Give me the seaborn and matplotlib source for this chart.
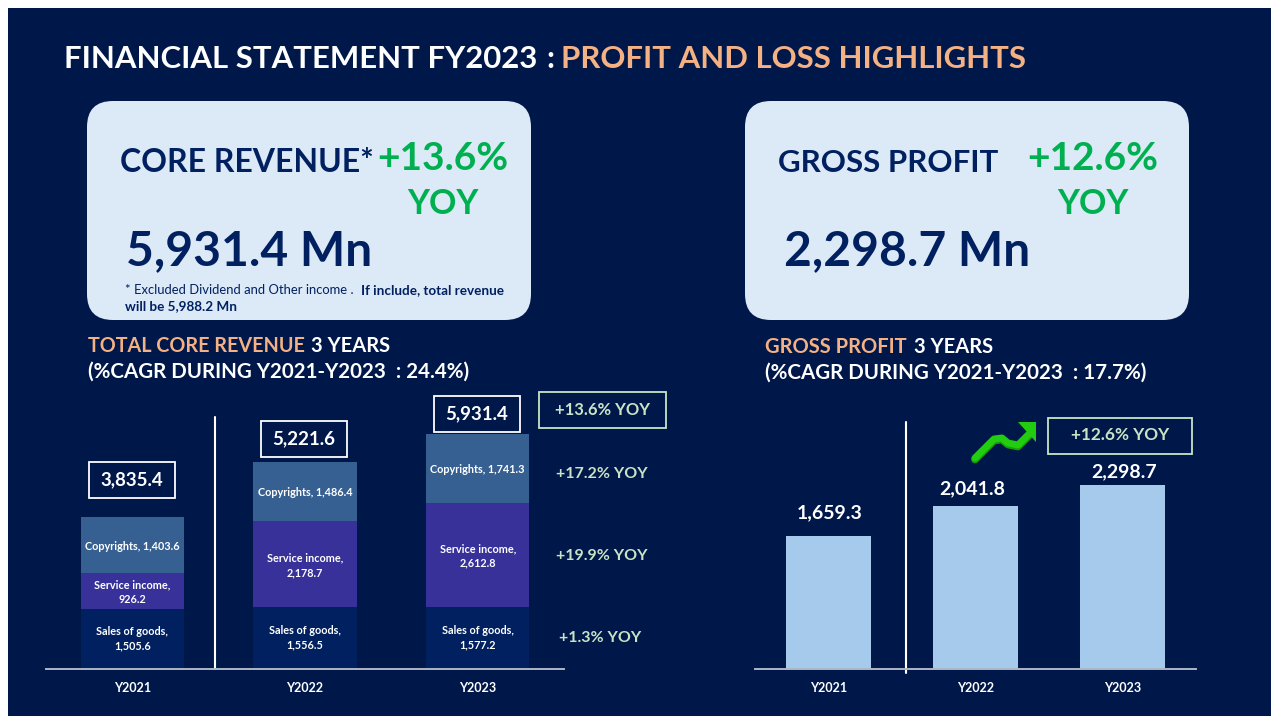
"""Profit and loss highlights slide, FY2023."""

import matplotlib
matplotlib.use("Agg")
import matplotlib.pyplot as plt
from matplotlib.patches import FancyBboxPatch, Polygon, Rectangle
import seaborn as sns

WIDTH, HEIGHT = 1271, 716

YEARS = ["Y2021", "Y2022", "Y2023"]
SALES = [1505.6, 1556.5, 1577.2]
SERVICE = [926.2, 2178.7, 2612.8]
COPYRIGHTS = [1403.6, 1486.4, 1741.3]
TOTALS = [3835.4, 5221.6, 5931.4]
GROSS_PROFIT = [1659.3, 2041.8, 2298.7]
SEGMENT_YOY = ["+17.2% YOY", "+19.9% YOY", "+1.3% YOY"]

NAVY = "#00174A"
PANEL = "#DCE9F7"
INK = "#002060"
GREEN = "#00B050"
ORANGE = "#F4B183"
PALE = "#C9E4C5"
COL_SALES = "#002060"
COL_SERVICE = "#373199"
COL_COPY = "#376092"
COL_GROSS = "#A6CAEC"
AXIS_LINE = "#AEB6C6"

sns.set_theme(style="white")
plt.rcParams["font.family"] = ["Lato", "DejaVu Sans"]

fig = plt.figure(figsize=(WIDTH / 100, HEIGHT / 100), dpi=100, facecolor="white")

# pixel canvas behind the charts, for the slide furniture
bg = fig.add_axes([0, 0, 1, 1], zorder=0)
bg.set_xlim(0, WIDTH)
bg.set_ylim(HEIGHT, 0)
bg.axis("off")
bg.add_patch(Rectangle((8, 8), WIDTH, HEIGHT, color=NAVY, lw=0))


def label(x, y, s, size, color="white", weight="bold", ha="left"):
    # +4: Lato sits higher than the va="center" box suggests
    bg.text(x, y + 4, s, fontsize=size, color=color, fontweight=weight,
            ha=ha, va="center", zorder=5)


def panel(x, y, w, h):
    bg.add_patch(FancyBboxPatch((x + 26, y + 26), w - 52, h - 52,
                                boxstyle="round,pad=26,rounding_size=26",
                                fc=PANEL, ec="none", zorder=1))


def boxed(cx, cy, w, h, s, size, edge, color):
    bg.add_patch(Rectangle((cx - w / 2, cy - h / 2), w, h, fc="none",
                           ec=edge, lw=1.3, zorder=4))
    label(cx, cy - 4, s, size, color=color, ha="center")


def chart_axes(left, right, base, top):
    ax = fig.add_axes([left / WIDTH, 1 - base / HEIGHT,
                       (right - left) / WIDTH, (base - top) / HEIGHT], zorder=2)
    ax.patch.set_alpha(0)
    sns.despine(ax=ax, left=True)
    ax.spines["bottom"].set_color(AXIS_LINE)
    ax.spines["bottom"].set_linewidth(1.4)
    return ax


def finish_chart(ax, ymax):
    ax.set_xlim(-0.5, 2.5)
    ax.set_ylim(0, ymax)
    ax.set_yticks([])
    ax.set_ylabel("")
    ax.tick_params(axis="x", length=0, pad=9, colors="white", labelsize=9)
    for t in ax.get_xticklabels():
        t.set_fontweight("bold")


# header
label(64, 55, "FINANCIAL STATEMENT FY2023", 22.45)
label(546, 55, ":", 22.45)
label(561, 55, "PROFIT AND LOSS HIGHLIGHTS", 22.45, color=ORANGE)

# KPI panels
panel(87, 101, 444, 219)
panel(745, 101, 444, 219)

label(120, 159, "CORE REVENUE*", 23, color=INK)
label(443, 154, "+13.6%", 28, color=GREEN, ha="center")
label(443, 200, "YOY", 24.5, color=GREEN, ha="center")
label(126, 247, "5,931.4 Mn", 34.6, color=INK)
label(125, 286, "* Excluded Dividend and Other income .", 9.35, color=INK, weight="normal")
label(361, 286, "If include, total revenue", 9.7, color=INK)
label(125, 302, "will be 5,988.2 Mn", 9.7, color=INK)

label(778, 159, "GROSS PROFIT", 22.5, color=INK)
label(1093, 154, "+12.6%", 28, color=GREEN, ha="center")
label(1093, 200, "YOY", 24.5, color=GREEN, ha="center")
label(784, 247, "2,298.7 Mn", 34.6, color=INK)

# chart headings
label(88, 342, "TOTAL CORE REVENUE", 14.2, color=ORANGE)
label(311, 342, "3 YEARS", 14.5)
label(88, 368, "(%CAGR DURING Y2021-Y2023  : 24.4%)", 14.8)
label(765, 343, "GROSS PROFIT", 14.5, color=ORANGE)
label(914, 343, "3 YEARS", 14.5)
label(765, 369, "(%CAGR DURING Y2021-Y2023  : 17.7%)", 14.8)

# stacked revenue chart
px_per_unit = 235 / TOTALS[2]
ax1 = chart_axes(46, 564, 669, 400)
bottom_service = SALES
bottom_copy = [a + b for a, b in zip(SALES, SERVICE)]
bar_kw = dict(saturation=1, width=0.6, linewidth=0, edgecolor="none", ax=ax1)
sns.barplot(x=YEARS, y=SALES, color=COL_SALES, **bar_kw)
sns.barplot(x=YEARS, y=SERVICE, bottom=bottom_service, color=COL_SERVICE, **bar_kw)
sns.barplot(x=YEARS, y=COPYRIGHTS, bottom=bottom_copy, color=COL_COPY, **bar_kw)
finish_chart(ax1, 269 / px_per_unit)

for i in range(len(YEARS)):
    kw = dict(ha="center", va="center", color="white", fontsize=7.8,
              fontweight="bold", linespacing=1.4)
    ax1.text(i, SALES[i] / 2 + 10, f"Sales of goods,\n{SALES[i]:,.1f}", **kw)
    ax1.text(i, bottom_service[i] + SERVICE[i] / 2 - 30,
             f"Service income,\n{SERVICE[i]:,.1f}", **kw)
    ax1.text(i, bottom_copy[i] + COPYRIGHTS[i] / 2 - 30,
             f"Copyrights, {COPYRIGHTS[i]:,.1f}", **kw)

for cx, cy, total in zip([132, 304, 477], [480, 439, 414], TOTALS):
    boxed(cx, cy, 86, 36, f"{total:,.1f}", 13.5, "white", "white")

bg.plot([215, 215], [417, 669], color="white", lw=1.5, zorder=3)
boxed(602.5, 410, 127, 36, "+13.6% YOY", 12, PALE, PALE)
for x, y, s in zip([602, 602, 600], [470, 552, 634], SEGMENT_YOY):
    label(x, y, s, 11.5, color=PALE, ha="center")

# gross profit chart
px_per_unit2 = 184 / GROSS_PROFIT[2]
ax2 = chart_axes(755, 1196, 669, 400)
sns.barplot(x=YEARS, y=GROSS_PROFIT, color=COL_GROSS, saturation=1, width=0.58,
            linewidth=0, edgecolor="none", ax=ax2)
finish_chart(ax2, 269 / px_per_unit2)

for cx, cy, v in zip([830, 972, 1124], [509, 485, 468], GROSS_PROFIT):
    label(cx, cy, f"{v:,.1f}", 14, ha="center")

bg.plot([906, 906], [422, 673], color="white", lw=1.5, zorder=3)
boxed(1120, 435.5, 144, 36, "+12.6% YOY", 12.4, PALE, PALE)

# green trend arrow
trend_x = [975, 994, 1002, 1008, 1018, 1031]
trend_y = [458, 439, 438, 443, 445, 432]
bg.plot(trend_x, [y + 1.5 for y in trend_y], color="#189A0C", lw=5.6,
        solid_capstyle="round", solid_joinstyle="round", zorder=3)
bg.plot(trend_x, trend_y, color="#22CC11", lw=5,
        solid_capstyle="round", solid_joinstyle="round", zorder=3)
bg.add_patch(Polygon([(1018, 422), (1036, 422), (1036, 442)],
                     closed=True, color="#22CC11", lw=0, zorder=3))

fig.savefig("out.png", dpi=100, facecolor=fig.get_facecolor())
plt.close(fig)
